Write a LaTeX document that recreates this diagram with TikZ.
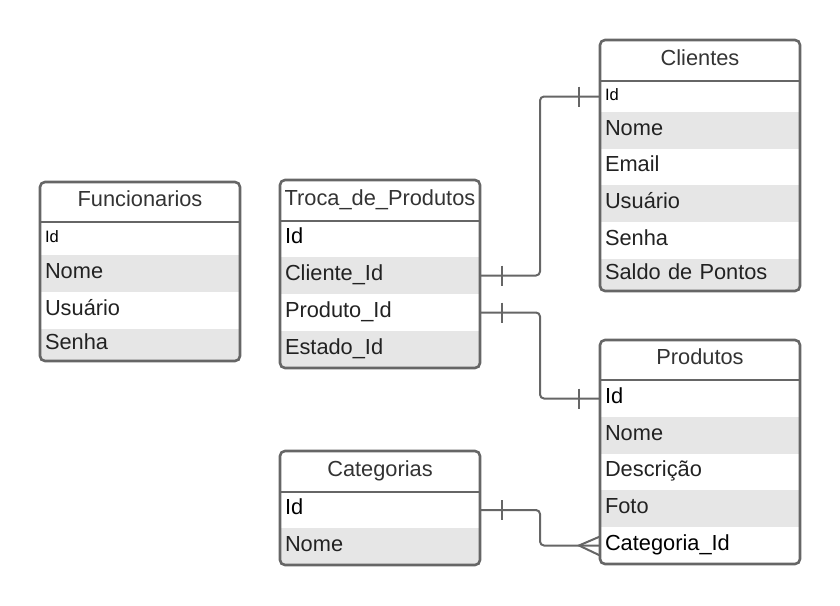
\documentclass[tikz,border=0pt]{standalone}
\usepackage{fontspec}
\setmainfont{Liberation Sans}
\usetikzlibrary{positioning}

\definecolor{framegray}{HTML}{666666}
\definecolor{rowgray}{HTML}{E6E6E6}
\definecolor{headtext}{HTML}{333333}
\definecolor{fieldtext}{HTML}{222222}

\tikzset{
  tabhead/.style={minimum width=200pt, minimum height=41pt, inner sep=0pt, outer sep=0pt,
    text height=15.6pt, text depth=6.6pt, text=headtext, font=\fontsize{21.8}{26}\selectfont},
  field/.style={text width=190pt, minimum height=37pt, inner xsep=5pt, inner ysep=0pt,
    outer sep=0pt, align=left, text height=15.6pt, text depth=6.6pt,
    text=fieldtext, font=\fontsize{21.8}{26}\selectfont},
  shaded/.style={fill=rowgray},
  smallid/.style={text=black, text height=11.8pt, text depth=4.6pt, font=\fontsize{16.5}{19}\selectfont},
  keyid/.style={text=black},
  frame/.style={draw=framegray, line width=2.6pt},
  link/.style={draw=framegray, line width=2pt},
}

\begin{document}
\begin{tikzpicture}[x=1pt,y=-1pt]
\useasboundingbox (0,0) rectangle (840,605);

% Draw the Funcionarios table
\node[tabhead, minimum height=40pt, anchor=north west] (fun) at (40,182) {Funcionarios};
\node[field, smallid, minimum height=33pt, below=0pt of fun] (fun-id) {Id};
\node[field, shaded, below=0pt of fun-id] (fun-nome) {Nome};
\node[field, below=0pt of fun-nome] (fun-usu) {Usuário};
\node[field, shaded, minimum height=32pt, below=0pt of fun-usu] (fun-senha) {Senha};
\draw[frame, rounded corners=5pt] (fun.north west) rectangle (fun-senha.south east);
\draw[frame] (fun.south west) -- (fun.south east);

% Draw the Troca_de_Produtos table
\node[tabhead, anchor=north west] (tro) at (280,180) {Troca\_de\_Produtos};
\node[field, keyid, minimum height=36pt, below=0pt of tro] (tro-id) {Id};
\node[field, shaded, below=0pt of tro-id] (tro-cli) {Cliente\_Id};
\node[field, below=0pt of tro-cli] (tro-pro) {Produto\_Id};
\node[field, shaded, below=0pt of tro-pro] (tro-est) {Estado\_Id};
\draw[frame, rounded corners=5pt] (tro.north west) rectangle (tro-est.south east);
\draw[frame] (tro.south west) -- (tro.south east);

% Draw the Clientes table
\node[tabhead, anchor=north west] (cli) at (600,40) {Clientes};
\node[field, smallid, minimum height=31pt, below=0pt of cli] (cli-id) {Id};
\node[field, shaded, below=0pt of cli-id] (cli-nome) {Nome};
\node[field, minimum height=36pt, below=0pt of cli-nome] (cli-email) {Email};
\node[field, shaded, below=0pt of cli-email] (cli-usu) {Usuário};
\node[field, below=0pt of cli-usu] (cli-senha) {Senha};
\node[field, shaded, minimum height=32pt, below=0pt of cli-senha] (cli-saldo) {Saldo de Pontos};
\draw[frame, rounded corners=5pt] (cli.north west) rectangle (cli-saldo.south east);
\draw[frame] (cli.south west) -- (cli.south east);

% Draw the Produtos table
\node[tabhead, minimum height=40pt, anchor=north west] (pro) at (600,340) {Produtos};
\node[field, keyid, below=0pt of pro] (pro-id) {Id};
\node[field, shaded, below=0pt of pro-id] (pro-nome) {Nome};
\node[field, minimum height=36pt, below=0pt of pro-nome] (pro-desc) {Descrição};
\node[field, shaded, below=0pt of pro-desc] (pro-foto) {Foto};
\node[field, keyid, below=0pt of pro-foto] (pro-cat) {Categoria\_Id};
\draw[frame, rounded corners=5pt] (pro.north west) rectangle (pro-cat.south east);
\draw[frame] (pro.south west) -- (pro.south east);

% Draw the Categorias table
\node[tabhead, anchor=north west] (cat) at (280,451) {Categorias};
\node[field, keyid, minimum height=36pt, below=0pt of cat] (cat-id) {Id};
\node[field, shaded, below=0pt of cat-id] (cat-nome) {Nome};
\draw[frame, rounded corners=5pt] (cat.north west) rectangle (cat-nome.south east);
\draw[frame] (cat.south west) -- (cat.south east);

% Draw the relations
\draw[link, rounded corners=4pt] (tro-cli.east) -- ([xshift=60pt]tro-cli.east) |- (cli-id.west);
\draw[link, rounded corners=4pt] (tro-pro.east) -- ([xshift=60pt]tro-pro.east) |- (pro-id.west);
\draw[link, rounded corners=4pt] (cat-id.east) -- ([xshift=60pt]cat-id.east) |- (pro-cat.west);

% Draw the one marks
\draw[link] ([xshift=22pt]tro-cli.east) ++(0,-10) -- ++(0,20);
\draw[link] ([xshift=-21pt]cli-id.west) ++(0,-10) -- ++(0,20);
\draw[link] ([xshift=22pt]tro-pro.east) ++(0,-10) -- ++(0,20);
\draw[link] ([xshift=-21pt]pro-id.west) ++(0,-10) -- ++(0,20);
\draw[link] ([xshift=22pt]cat-id.east) ++(0,-10) -- ++(0,20);

% Draw the many mark
\draw[link] ([yshift=9pt]pro-cat.west) -- ([xshift=-21pt]pro-cat.west) -- ([yshift=-10pt]pro-cat.west);

\end{tikzpicture}
\end{document}
